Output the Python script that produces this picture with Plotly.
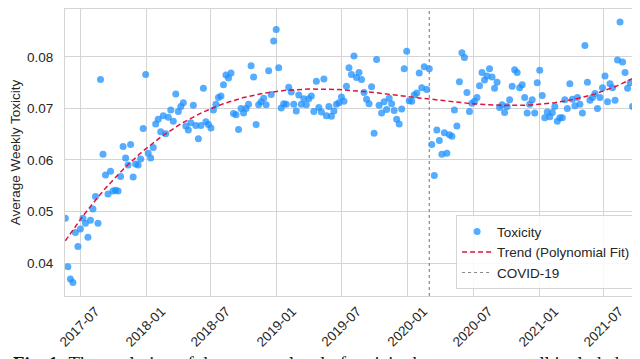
import numpy as np
import pandas as pd
import plotly.graph_objects as go

# weekly average toxicity (weeks start 2017-05-21)
tox_2017 = [0.0487, 0.0393, 0.0369, 0.0362, 0.0459, 0.0432, 0.0466, 0.0487, 0.0477, 0.0450,
            0.0483, 0.0505, 0.0529, 0.0477, 0.0756, 0.0611, 0.0571, 0.0534, 0.0578, 0.0540,
            0.0541, 0.0540, 0.0568, 0.0626, 0.0604, 0.0590, 0.0630, 0.0567, 0.0592, 0.0590,
            0.0602, 0.0661]
tox_2018 = [0.0766, 0.0613, 0.0604, 0.0624, 0.0670, 0.0679, 0.0655, 0.0686, 0.0651, 0.0683,
            0.0697, 0.0675, 0.0728, 0.0694, 0.0704, 0.0711, 0.0666, 0.0658, 0.0672, 0.0706,
            0.0667, 0.0641, 0.0667, 0.0739, 0.0674, 0.0669, 0.0662, 0.0697, 0.0708, 0.0721,
            0.0724, 0.0746, 0.0765, 0.0759, 0.0769, 0.0690, 0.0688, 0.0659, 0.0700, 0.0691,
            0.0700, 0.0708, 0.0783, 0.0761, 0.0669, 0.0707, 0.0713, 0.0720, 0.0707, 0.0773,
            0.0727, 0.0831]
tox_2019 = [0.0853, 0.0779, 0.0701, 0.0709, 0.0708, 0.0741, 0.0732, 0.0708,
            0.0695, 0.0726, 0.0708, 0.0719, 0.0707, 0.0719, 0.0724, 0.0694, 0.0753, 0.0702,
            0.0693, 0.0757, 0.0686,
            0.0704, 0.0685, 0.0695, 0.0708, 0.0711, 0.0722, 0.0714, 0.0743, 0.0779, 0.0766,
            0.0802, 0.0760, 0.0770, 0.0756, 0.0731, 0.0718, 0.0709, 0.0742, 0.0652, 0.0795,
            0.0706, 0.0691, 0.0713, 0.0698, 0.0720, 0.0709, 0.0696, 0.0679, 0.0670, 0.0699,
            0.0777]
tox_2020 = [0.0811, 0.0715, 0.0714, 0.0726, 0.0730, 0.0769, 0.0740, 0.0781, 0.0737,
            0.0777, 0.0630, 0.0570, 0.0658, 0.0638, 0.0611, 0.0653, 0.0613, 0.0649, 0.0646,
            0.0697, 0.0666, 0.0752, 0.0808, 0.0799, 0.0731, 0.0694, 0.0710, 0.0714, 0.0721,
            0.0744, 0.0770, 0.0755, 0.0763, 0.0777, 0.0761, 0.0739, 0.0751, 0.0702, 0.0707,
            0.0692, 0.0704, 0.0717, 0.0743, 0.0775, 0.0770, 0.0740, 0.0746, 0.0721, 0.0691,
            0.0708, 0.0717, 0.0691]
tox_2021 = [0.0750, 0.0774, 0.0725, 0.0682, 0.0693, 0.0684, 0.0692,
            0.0704, 0.0675, 0.0682, 0.0682, 0.0717, 0.0700, 0.0748, 0.0718, 0.0705, 0.0721,
            0.0708, 0.0691, 0.0822, 0.0751, 0.0716, 0.0721, 0.0729, 0.0700, 0.0721, 0.0740,
            0.0763, 0.0713, 0.0748, 0.0740, 0.0716, 0.0794, 0.0868, 0.0790, 0.0770, 0.0739,
            0.0750, 0.0704, 0.0701, 0.0702, 0.0705, 0.0707]

first_week = "2017-05-21"
covid_date = "2020-03-01"
x_ticks = ["2017-07-01", "2018-01-01", "2018-07-01", "2019-01-01", "2019-07-01",
           "2020-01-01", "2020-07-01", "2021-01-01", "2021-07-01"]
x_tick_labels = ["2017-07", "2018-01", "2018-07", "2019-01", "2019-07",
                 "2020-01", "2020-07", "2021-01", "2021-07"]
y_ticks = [0.04, 0.05, 0.06, 0.07, 0.08]
caption = ("<b>Fig. 1:</b> The evolution of the average level of toxicity "
           "by party across all included")

toxicity = tox_2017 + tox_2018 + tox_2019 + tox_2020 + tox_2021
weeks = pd.date_range(first_week, periods=len(toxicity), freq="7D")

# polynomial trend over time
t = (weeks - weeks[0]).days.values.astype(float)
coef = np.polyfit(t, toxicity, 3)
trend = np.polyval(coef, t)

FONT = "Liberation Sans, Arial, sans-serif"
GRID = "#d5d5d5"
TXT = "#262626"

fig = go.Figure()
fig.add_trace(go.Scatter(
    x=weeks, y=toxicity, mode="markers", name="Toxicity",
    marker=dict(size=7, color="rgba(30,144,255,0.75)", line=dict(width=0)),
))
fig.add_trace(go.Scatter(
    x=weeks, y=trend, mode="lines", name="Trend (Polynomial Fit)",
    line=dict(color="#dc143c", width=1.5, dash="5px,3px"),
))
fig.add_shape(
    type="line", x0=covid_date, x1=covid_date, xref="x", y0=0, y1=1, yref="paper",
    line=dict(color="#888888", width=1.2, dash="dot"),
    showlegend=True, name="COVID-19",
)

# rotated date labels centred on their ticks (matplotlib style)
for xv, lab in zip(x_ticks, x_tick_labels):
    fig.add_annotation(
        x=xv, xref="x", y=-0.108, yref="paper", text=lab, showarrow=False,
        textangle=-45, xanchor="center", yanchor="middle",
        font=dict(family=FONT, size=13.5, color=TXT),
    )

fig.add_annotation(
    x=-0.094, xref="paper", y=-0.19, yref="paper", text=caption, showarrow=False,
    xanchor="left", yanchor="top",
    font=dict(family="Liberation Serif, Times New Roman, serif", size=18.8, color="#111111"),
)

fig.update_xaxes(
    range=["2017-05-20", "2021-10-18"], tickvals=x_ticks, showticklabels=False,
    showgrid=True, gridcolor=GRID, gridwidth=1, zeroline=False,
    showline=True, linecolor=GRID, linewidth=1, mirror=True,
)
fig.update_yaxes(
    range=[0.0336, 0.0893], tickvals=y_ticks, tickformat=".2f",
    showgrid=True, gridcolor=GRID, gridwidth=1, zeroline=False,
    showline=True, linecolor=GRID, linewidth=1, mirror=True,
    ticklabelstandoff=8, tickfont=dict(family=FONT, size=13.5, color=TXT),
    title=dict(text="Average Weekly Toxicity", standoff=4,
               font=dict(family=FONT, size=13.5, color=TXT)),
)

fig.update_layout(
    width=640, height=359, autosize=False,
    margin=dict(l=57, r=5, t=1, b=71),
    paper_bgcolor="white", plot_bgcolor="white",
    showlegend=True,
    legend=dict(
        x=0.988, y=0.024, xanchor="right", yanchor="bottom",
        bgcolor="rgba(255,255,255,0.85)", bordercolor="#d5d5d5", borderwidth=1,
        font=dict(family=FONT, size=13.5, color=TXT), tracegroupgap=0,
    ),
)

fig.write_html("out.html")
